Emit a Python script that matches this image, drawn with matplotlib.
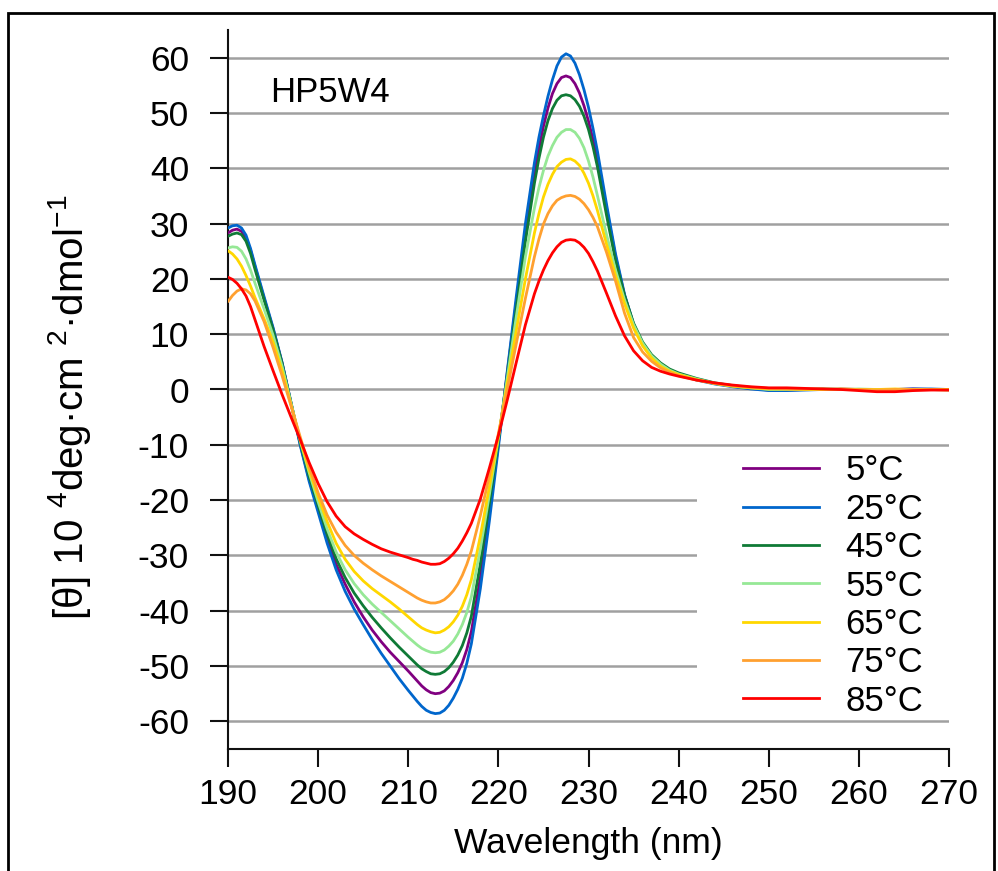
import matplotlib
matplotlib.use("Agg")
import matplotlib.pyplot as plt
from matplotlib.patches import Rectangle
from matplotlib.lines import Line2D

plt.rcParams['font.family'] = ['Liberation Sans', 'DejaVu Sans']
plt.rcParams['mathtext.fontset'] = 'custom'
plt.rcParams['mathtext.rm'] = 'Liberation Sans'
plt.rcParams['mathtext.it'] = 'Liberation Sans'
plt.rcParams['mathtext.default'] = 'regular'

# ---------------- data ----------------
wavelength = ([190, 190.5, 191, 191.5, 192, 192.5, 193]
              + list(range(194, 211))
              + [210.5, 211, 211.5, 212, 212.5, 213, 213.5, 214, 214.5, 215, 215.5, 216, 216.5, 217]
              + list(range(218, 225))
              + [224.5, 225, 225.5, 226, 226.5, 227, 227.5, 228, 228.5, 229, 229.5, 230, 230.5, 231]
              + list(range(232, 241))
              + list(range(242, 271, 2)))

t5 = [28.3, 28.8, 29.0, 28.6, 27.4, 25.2, 22.2,
      16.5, 11.0, 4.8, -2.5, -9.8, -16.2, -21.7, -27.0, -31.6, -35.2, -38.4, -41.1, -43.5, -45.6, -47.5, -49.2, -50.9,
      -51.8, -52.7, -53.6, -54.3, -54.8, -55.0, -54.9, -54.5, -53.7, -52.6, -51.2, -49.4, -47.0, -43.8,
      -34.0, -22.3, -9.8, 3.2, 16.0, 28.3, 39.0,
      43.6, 47.6, 50.9, 53.5, 55.3, 56.4, 56.7, 56.4, 55.3, 53.6, 51.3, 48.5, 45.2, 41.4,
      32.8, 24.0, 17.0, 11.7, 8.1, 5.9, 4.4, 3.4, 2.8,
      1.8, 1.1, 0.6, 0.2, -0.1, -0.1, 0.0, 0.0, 0.1, 0.0, -0.1, 0.0, 0.1, 0.0, 0.0]

t25 = [29.2, 29.6, 29.7, 29.2, 27.9, 25.5, 22.5,
       16.8, 11.2, 4.9, -2.4, -10.0, -16.6, -22.2, -27.8, -32.6, -36.5, -39.7, -42.5, -45.2, -47.7, -50.0, -52.3, -54.4,
       -55.4, -56.4, -57.3, -58.0, -58.4, -58.6, -58.5, -58.0, -57.1, -55.8, -54.2, -52.2, -49.5, -46.0,
       -36.0, -23.8, -10.5, 3.5, 17.0, 30.0, 41.0,
       45.6, 49.5, 53.0, 56.0, 58.5, 60.1, 60.7, 60.3, 59.0, 56.9, 54.2, 51.0, 47.2, 43.0,
       33.5, 24.5, 17.2, 11.8, 8.2, 5.9, 4.4, 3.4, 2.7,
       1.7, 1.0, 0.5, 0.1, -0.2, -0.2, -0.1, 0.0, 0.0, 0.0, 0.0, 0.0, 0.1, 0.1, 0.0]

t45 = [27.7, 28.1, 28.3, 28.0, 26.8, 24.6, 21.7,
       16.2, 10.8, 4.7, -2.5, -9.5, -15.7, -21.0, -26.2, -30.6, -34.0, -36.8, -39.1, -41.2, -43.1, -44.9, -46.6, -48.2,
       -49.0, -49.8, -50.5, -51.0, -51.4, -51.5, -51.4, -51.0, -50.3, -49.3, -48.0, -46.3, -44.0, -41.0,
       -31.5, -20.6, -9.3, 2.6, 14.8, 26.8, 37.3,
       41.8, 45.6, 48.6, 50.8, 52.3, 53.1, 53.3, 53.1, 52.4, 51.2, 49.4, 47.0, 43.9, 40.2,
       31.5, 23.3, 17.0, 12.0, 8.6, 6.3, 4.8, 3.7, 3.0,
       2.0, 1.2, 0.7, 0.3, 0.1, 0.0, 0.0, 0.1, 0.0, 0.0, -0.1, 0.0, 0.0, 0.0, 0.0]

t55 = [25.6, 25.8, 25.7, 25.0, 23.6, 21.6, 19.2,
       14.6, 9.8, 4.2, -2.5, -9.2, -15.0, -20.3, -25.2, -29.4, -32.6, -35.1, -37.1, -38.8, -40.3, -41.8, -43.3, -44.8,
       -45.5, -46.2, -46.8, -47.2, -47.5, -47.6, -47.5, -47.1, -46.4, -45.5, -44.2, -42.5, -40.3, -37.5,
       -28.8, -19.0, -8.8, 2.2, 13.3, 24.0, 32.8,
       36.5, 39.6, 42.2, 44.1, 45.6, 46.5, 47.0, 47.0, 46.5, 45.4, 43.7, 41.3, 38.4, 35.0,
       28.0, 21.6, 16.2, 11.7, 8.4, 6.1, 4.6, 3.5, 2.8,
       1.9, 1.1, 0.6, 0.3, 0.0, 0.0, 0.0, 0.0, 0.0, 0.1, 0.0, 0.0, 0.0, 0.0, -0.1]

t65 = [25.1, 24.5, 23.6, 22.3, 20.6, 18.7, 16.6,
       12.8, 8.6, 3.4, -2.8, -9.0, -14.5, -19.4, -23.9, -27.8, -30.7, -32.9, -34.6, -36.0, -37.2, -38.4, -39.7, -41.1,
       -41.8, -42.5, -43.1, -43.5, -43.8, -44.0, -43.9, -43.5, -42.9, -42.0, -40.8, -39.2, -37.1, -34.4,
       -26.5, -17.6, -8.5, 1.2, 10.8, 20.0, 28.3,
       31.8, 34.8, 37.1, 38.9, 40.3, 41.1, 41.6, 41.7, 41.3, 40.5, 39.1, 37.3, 35.0, 32.3,
       26.3, 20.6, 15.5, 11.1, 7.9, 5.7, 4.2, 3.3, 2.7,
       1.8, 1.1, 0.6, 0.3, 0.1, 0.1, 0.0, 0.0, 0.1, 0.0, 0.0, 0.1, 0.0, 0.0, 0.0]

t75 = [15.9, 17.0, 17.8, 18.2, 18.0, 17.3, 16.0,
       12.3, 7.6, 2.5, -3.0, -8.5, -13.9, -18.7, -22.7, -25.8, -28.2, -30.0, -31.4, -32.6, -33.7, -34.7, -35.7, -36.7,
       -37.2, -37.7, -38.1, -38.4, -38.6, -38.6, -38.4, -38.0, -37.3, -36.4, -35.2, -33.6, -31.6, -29.2,
       -22.8, -15.6, -8.0, 0.2, 8.4, 16.5, 24.0,
       27.2, 29.9, 31.8, 33.2, 34.2, 34.7, 35.0, 35.1, 34.9, 34.4, 33.6, 32.5, 31.1, 29.4,
       24.8, 19.6, 13.8, 9.4, 6.8, 5.1, 3.9, 3.1, 2.5,
       1.7, 1.1, 0.7, 0.4, 0.2, 0.1, 0.1, 0.1, 0.0, 0.0, -0.1, 0.0, 0.0, 0.0, -0.1]

t85 = [20.3, 19.9, 19.2, 18.2, 16.9, 15.0, 12.6,
       7.8, 3.4, -0.9, -5.0, -9.0, -13.2, -17.0, -20.3, -22.9, -24.8, -26.1, -27.1, -28.0, -28.8, -29.4, -29.9, -30.4,
       -30.7, -30.9, -31.2, -31.4, -31.6, -31.6, -31.5, -31.1, -30.5, -29.7, -28.7, -27.4, -25.9, -24.2,
       -19.8, -14.2, -8.3, -1.8, 5.0, 11.7, 17.3,
       19.6, 21.6, 23.3, 24.7, 25.8, 26.6, 27.0, 27.1, 27.0, 26.5, 25.7, 24.6, 23.1, 21.4,
       17.4, 13.3, 9.7, 7.0, 5.2, 4.0, 3.3, 2.8, 2.4,
       1.7, 1.2, 0.8, 0.5, 0.3, 0.3, 0.2, 0.1, 0.0, -0.2, -0.4, -0.4, -0.2, -0.1, -0.1]

series_labels = ['5°C', '25°C', '45°C', '55°C', '65°C', '75°C', '85°C']
series_values = [t5, t25, t45, t55, t65, t75, t85]
series_colors = ['#800080', '#0066cc', '#0f7a36', '#96e896', '#ffd700', '#ffa030', '#ff0000']

x_ticks = list(range(190, 271, 10))
y_ticks = list(range(-60, 61, 10))

# ---------------- figure ----------------
fig = plt.figure(figsize=(9.98, 8.71), dpi=100)
ax = fig.add_axes([228 / 998, 1 - 749 / 871, (949 - 228) / 998, (749 - 30) / 871])

for vals, col, lab in zip(series_values, series_colors, series_labels):
    ax.plot(wavelength, vals, color=col, lw=2.0, label=lab, zorder=3,
            solid_joinstyle='round', solid_capstyle='round')

ax.set_xlim(190, 270)
ax.set_ylim(-65, 65)
ax.set_xticks(x_ticks)
ax.set_yticks(y_ticks)
ax.set_xticklabels([str(v) for v in x_ticks])
ax.set_yticklabels([str(v) for v in y_ticks])

ax.set_axisbelow(True)
ax.yaxis.grid(True, color='#a0a0a0', lw=1.8)
ax.xaxis.grid(False)

for s in ['top', 'right']:
    ax.spines[s].set_visible(False)
for s in ['left', 'bottom']:
    ax.spines[s].set_linewidth(1.5)
    ax.spines[s].set_color('#111111')

ax.tick_params(axis='both', direction='out', length=13, width=1.5, color='#111111',
               labelsize=25.5)
ax.tick_params(axis='y', pad=15)
ax.tick_params(axis='x', pad=8)

# white area behind the legend
ax.add_patch(Rectangle((242, -56.5), 28, 42, facecolor='white', edgecolor='none',
                       zorder=1))

handles = [Line2D([], [], color=c, lw=2.0) for c in series_colors]
ax.legend(handles, series_labels, loc='center left',
          bbox_to_anchor=((743 - 228) / 721, (749 - 586) / 719),
          frameon=False, fontsize=25, handlelength=2.2, handletextpad=0.75,
          labelspacing=0.155, borderpad=0, borderaxespad=0)

ax.text(42 / 721, (749 - 102) / 719, 'HP5W4', transform=ax.transAxes,
        fontsize=25, ha='left', va='baseline')

fig.text(588.5 / 998, 1 - 853 / 871, 'Wavelength (nm)', fontsize=25.5,
         ha='center', va='baseline')
fig.text(70 / 998, 1 - 407 / 871,
         '[θ] 10 $^{4}$deg·cm $^{2}$·dmol$^{\u2212 1}$',
         fontsize=29, rotation=90, ha='center', va='center')

fig.patches.append(Rectangle((8 / 998, -0.05), (994 - 8) / 998, 1.05 - 13 / 871,
                             transform=fig.transFigure, fill=False,
                             edgecolor='black', lw=2.0))

fig.savefig('out.png', dpi=100)
